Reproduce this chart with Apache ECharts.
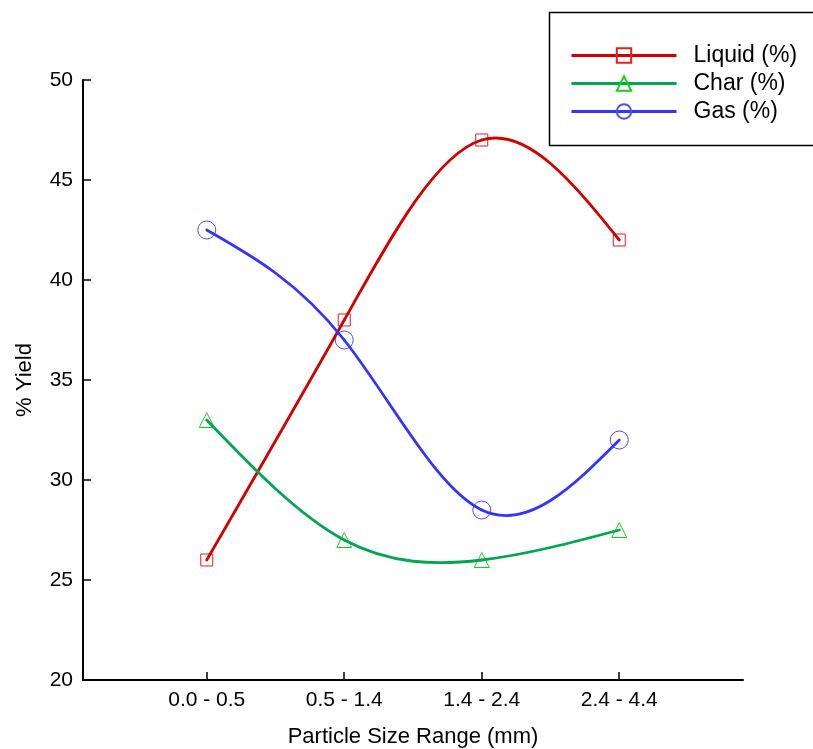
<!DOCTYPE html>
<html>
<head>
<meta charset="utf-8">
<script src="https://cdn.jsdelivr.net/npm/echarts@6/dist/echarts.min.js"></script>
<style>
html,body{margin:0;padding:0;background:#fff;}
#chart{width:813px;height:749px;}
</style>
</head>
<body>
<div id="chart"></div>
<script>
const categories = ['0.0 - 0.5', '0.5 - 1.4', '1.4 - 2.4', '2.4 - 4.4'];
const categoryPositions = [1, 2, 3, 4];
const liquid = [26, 38, 47, 42];
const charY = [33, 27, 26, 27.5];
const gas = [42.5, 37, 28.5, 32];
const yTicks = [20, 25, 30, 35, 40, 45, 50];
const seriesNames = ['Liquid (%)', 'Char (%)', 'Gas (%)'];

const FONT = '"Liberation Sans", Arial, sans-serif';

function pairs(vals) {
  return vals.map((v, i) => [categoryPositions[i], v]);
}

// Natural cubic spline: endpoint slopes for each segment (Bezier form)
function splineSlopes(xs, ys) {
  const n = xs.length;
  const h = [];
  for (let i = 0; i < n - 1; i++) h.push(xs[i + 1] - xs[i]);
  const M = new Array(n).fill(0);
  if (n > 2) {
    const a = [], b = [], c = [], d = [];
    for (let i = 1; i < n - 1; i++) {
      a.push(h[i - 1]);
      b.push(2 * (h[i - 1] + h[i]));
      c.push(h[i]);
      d.push(6 * ((ys[i + 1] - ys[i]) / h[i] - (ys[i] - ys[i - 1]) / h[i - 1]));
    }
    const m = b.length;
    for (let i = 1; i < m; i++) {
      const w = a[i] / b[i - 1];
      b[i] -= w * c[i - 1];
      d[i] -= w * d[i - 1];
    }
    const sol = new Array(m);
    sol[m - 1] = d[m - 1] / b[m - 1];
    for (let i = m - 2; i >= 0; i--) sol[i] = (d[i] - c[i] * sol[i + 1]) / b[i];
    for (let i = 0; i < m; i++) M[i + 1] = sol[i];
  }
  const segs = [];
  for (let i = 0; i < n - 1; i++) {
    const dy = (ys[i + 1] - ys[i]) / h[i];
    const s0 = dy - h[i] * (2 * M[i] + M[i + 1]) / 6;
    const s1 = dy + h[i] * (M[i] + 2 * M[i + 1]) / 6;
    segs.push({ s0: s0, s1: s1, h: h[i] });
  }
  return segs;
}

function makeCurve(name, vals, lineColor) {
  const segs = splineSlopes(categoryPositions, vals);
  return {
    name: name + ' curve',
    type: 'custom',
    data: pairs(vals),
    silent: true,
    z: 4,
    renderItem: function (params, api) {
      const i = params.dataIndex;
      if (i >= vals.length - 1) return null;
      const x0 = categoryPositions[i], y0 = vals[i];
      const x1 = categoryPositions[i + 1], y1 = vals[i + 1];
      const sg = segs[i];
      const p0 = api.coord([x0, y0]);
      const c0 = api.coord([x0 + sg.h / 3, y0 + sg.s0 * sg.h / 3]);
      const c1 = api.coord([x1 - sg.h / 3, y1 - sg.s1 * sg.h / 3]);
      const p1 = api.coord([x1, y1]);
      return {
        type: 'bezierCurve',
        shape: { x1: p0[0], y1: p0[1], cpx1: c0[0], cpy1: c0[1], cpx2: c1[0], cpy2: c1[1], x2: p1[0], y2: p1[1] },
        style: { stroke: lineColor, lineWidth: 2.8, fill: null, lineCap: 'round' }
      };
    }
  };
}

function makeMarkers(name, vals, lineColor, markColor, symbol, size) {
  return {
    name: name,
    type: 'line',
    data: pairs(vals),
    symbol: symbol,
    symbolSize: size,
    showSymbol: true,
    lineStyle: { color: lineColor, width: 2.8, opacity: 0 },
    itemStyle: { color: 'rgba(255,255,255,0)', borderColor: markColor, borderWidth: 1 },
    emphasis: { disabled: true },
    z: 3
  };
}

const lineColors = ['#d40000', '#00a650', '#3333ff'];
const markColors = ['#e81c1c', '#1ccc1c', '#4d4dff'];

const chart = echarts.init(document.getElementById('chart'));
chart.setOption({
  animation: false,
  backgroundColor: '#fff',
  grid: { left: 83, right: 70, top: 80, bottom: 69, containLabel: false, outerBoundsMode: 'none' },
  xAxis: {
    type: 'value',
    min: 0.1,
    max: 4.9,
    name: 'Particle Size Range (mm)',
    nameLocation: 'middle',
    nameGap: 46,
    nameTextStyle: { fontFamily: FONT, fontSize: 22, color: '#000' },
    axisLine: { show: true, onZero: false, lineStyle: { color: '#000', width: 2 } },
    axisTick: { show: true, inside: true, length: 8, customValues: categoryPositions, lineStyle: { color: '#000', width: 1.5 } },
    axisLabel: {
      customValues: categoryPositions,
      margin: 10,
      fontFamily: FONT, fontSize: 21, color: '#000',
      formatter: function (v) { const i = categoryPositions.indexOf(v); return i >= 0 ? categories[i] : ''; }
    },
    splitLine: { show: false }
  },
  yAxis: {
    type: 'value',
    min: yTicks[0],
    max: yTicks[yTicks.length - 1],
    interval: 5,
    name: '% Yield',
    nameLocation: 'middle',
    nameGap: 47,
    nameRotate: 90,
    nameTextStyle: { fontFamily: FONT, fontSize: 22, color: '#000' },
    axisLine: { show: true, lineStyle: { color: '#000', width: 2 } },
    axisTick: { show: true, inside: true, length: 8, lineStyle: { color: '#000', width: 1.5 } },
    axisLabel: { margin: 10, fontFamily: FONT, fontSize: 21, color: '#000' },
    splitLine: { show: false }
  },
  legend: {
    orient: 'vertical',
    left: 565,
    top: 39,
    itemWidth: 105,
    itemHeight: 18,
    itemGap: 5,
    data: seriesNames.map((n, i) => ({ name: n, lineStyle: { color: lineColors[i], width: 3, opacity: 1 } })),
    textStyle: { fontFamily: FONT, fontSize: 23, color: '#000', padding: [0, 0, 0, 12] },
    inactiveColor: '#ccc'
  },
  graphic: [{
    type: 'rect',
    left: 547,
    top: 10,
    shape: { width: 300, height: 133 },
    style: { fill: 'none', stroke: '#000', lineWidth: 1.5 },
    silent: true
  }],
  series: [
    makeMarkers(seriesNames[0], liquid, lineColors[0], markColors[0], 'rect', 12),
    makeMarkers(seriesNames[1], charY, lineColors[1], markColors[1], 'triangle', 15),
    makeMarkers(seriesNames[2], gas, lineColors[2], markColors[2], 'circle', 18),
    makeCurve(seriesNames[0], liquid, lineColors[0]),
    makeCurve(seriesNames[1], charY, lineColors[1]),
    makeCurve(seriesNames[2], gas, lineColors[2])
  ]
});
</script>
</body>
</html>
